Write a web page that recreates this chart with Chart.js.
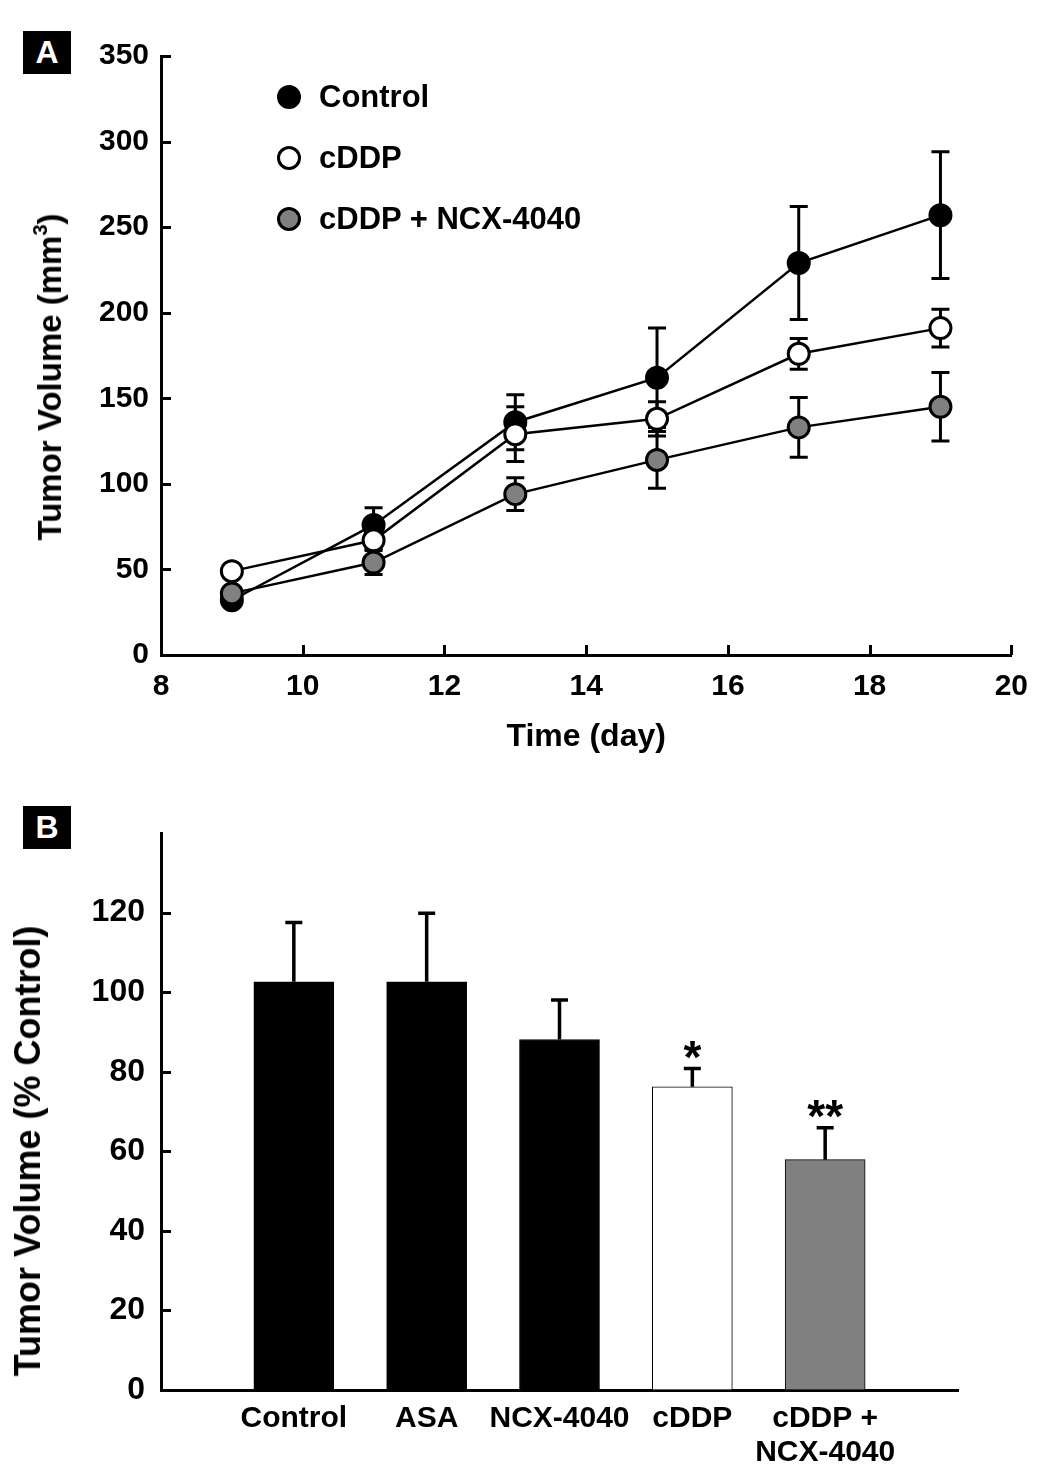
<!DOCTYPE html>
<html><head><meta charset="utf-8">
<script src="https://cdn.jsdelivr.net/npm/chart.js@4/dist/chart.umd.min.js"></script>
<style>
html,body{margin:0;padding:0;background:#fff;}
body{width:1042px;height:1480px;position:relative;overflow:hidden;font-family:'Liberation Sans',Arial,sans-serif;font-weight:bold;color:#000;}
#wrapA{position:absolute;left:0;top:0;width:1042px;height:760px;}
#wrapB{position:absolute;left:0;top:760px;width:1042px;height:720px;}
.panel{position:absolute;left:23px;width:48px;height:43px;background:#000;color:#fff;font-size:32px;line-height:43px;text-align:center;}
.ytitle{position:absolute;white-space:nowrap;transform:translate(-50%,-50%) rotate(-90deg);}
.leg{position:absolute;left:277px;height:40px;display:flex;align-items:center;font-size:31px;white-space:nowrap;}
.dot{width:18px;height:18px;border:3px solid #000;border-radius:50%;margin-right:18px;}
</style></head>
<body>
<div id="wrapA"><canvas id="chartA" width="1042" height="760"></canvas></div>
<div id="wrapB"><canvas id="chartB" width="1042" height="720"></canvas></div>

<div class="panel" style="top:31px;">A</div>
<div class="panel" style="top:806px;">B</div>

<div class="ytitle" style="left:50px;top:377px;font-size:33px;">Tumor Volume (mm<sup style="font-size:20px;vertical-align:14px;line-height:0">3</sup>)</div>
<div class="ytitle" style="left:28px;top:1151px;font-size:36px;">Tumor Volume (% Control)</div>

<div id="legend"></div>

<script>
// ---------- Panel A data ----------
const days = [9, 11, 13, 15, 17, 19];
const controlMean = [32, 76, 136, 162, 229, 257];
const controlSem  = [3, 10, 16, 29, 33, 37];
const cddpMean    = [49, 67, 129, 138, 176, 191];
const cddpSem     = [3, 5, 16, 10, 9, 11];
const comboMean   = [36, 54, 94, 114, 133, 145];
const comboSem    = [3, 7, 9.5, 16.6, 17.5, 20];
const seriesNames = ['Control', 'cDDP', 'cDDP + NCX-4040'];

// ---------- Panel B data ----------
const groups   = ['Control', 'ASA', 'NCX-4040', 'cDDP', ['cDDP +', 'NCX-4040']];
const pctMean  = [102.6, 102.6, 88.1, 76.2, 57.9];
const pctSem   = [14.9, 17.2, 9.9, 4.6, 8.0];
const sigMarks = ['', '', '', '*', '**'];

const FONT = "'Liberation Sans', Arial, sans-serif";
const fillA = ['#000000', '#ffffff', '#808080'];
const barFill = ['#000000', '#000000', '#000000', '#ffffff', '#808080'];

// Legend (HTML)
const legTops = [77, 138, 199];
const legEl = document.getElementById('legend');
seriesNames.forEach((n, i) => {
  const d = document.createElement('div');
  d.className = 'leg';
  d.style.top = legTops[i] + 'px';
  d.innerHTML = '<span class="dot" style="background:' + fillA[i] + '"></span><span>' + n + '</span>';
  legEl.appendChild(d);
});

// Inward tick marks
const inTicks = {
  id: 'inTicks',
  afterDraw(chart, args, opts) {
    const ctx = chart.ctx, ca = chart.chartArea;
    ctx.save();
    ctx.strokeStyle = '#000';
    ctx.lineWidth = 3;
    const len = opts.length || 10;
    if (opts.y) {
      const s = chart.scales.y;
      s.ticks.forEach(t => {
        const py = Math.round(s.getPixelForValue(t.value)) + 0.5;
        ctx.beginPath(); ctx.moveTo(ca.left, py); ctx.lineTo(ca.left + len, py); ctx.stroke();
      });
    }
    if (opts.x) {
      const s = chart.scales.x;
      s.ticks.forEach(t => {
        const px = Math.round(s.getPixelForValue(t.value)) + 0.5;
        ctx.beginPath(); ctx.moveTo(px, ca.bottom); ctx.lineTo(px, ca.bottom - len); ctx.stroke();
      });
    }
    ctx.restore();
  }
};

// Error bars panel A (drawn under markers)
const errA = {
  id: 'errA',
  beforeDatasetsDraw(chart) {
    const ctx = chart.ctx, x = chart.scales.x, y = chart.scales.y;
    const sets = [[controlMean, controlSem], [cddpMean, cddpSem], [comboMean, comboSem]];
    ctx.save();
    ctx.strokeStyle = '#000';
    ctx.lineWidth = 3;
    sets.forEach(([m, e]) => {
      days.forEach((d, i) => {
        const px = x.getPixelForValue(d);
        const t = y.getPixelForValue(m[i] + e[i]);
        const b = y.getPixelForValue(m[i] - e[i]);
        ctx.beginPath();
        ctx.moveTo(px, t); ctx.lineTo(px, b);
        ctx.moveTo(px - 9, t); ctx.lineTo(px + 9, t);
        ctx.moveTo(px - 9, b); ctx.lineTo(px + 9, b);
        ctx.stroke();
      });
    });
    ctx.restore();
  }
};

function pts(m) { return days.map((d, i) => ({ x: d, y: m[i] })); }

new Chart(document.getElementById('chartA'), {
  type: 'line',
  data: {
    datasets: [
      { label: seriesNames[1], data: pts(cddpMean), order: 0, backgroundColor: fillA[1], pointBackgroundColor: fillA[1] },
      { label: seriesNames[2], data: pts(comboMean), order: 1, backgroundColor: fillA[2], pointBackgroundColor: fillA[2] },
      { label: seriesNames[0], data: pts(controlMean), order: 2, backgroundColor: fillA[0], pointBackgroundColor: fillA[0] }
    ].map(ds => Object.assign(ds, {
      borderColor: '#000', borderWidth: 2.5, pointBorderColor: '#000', pointBorderWidth: 3,
      pointRadius: 10.5, tension: 0, fill: false, clip: false
    }))
  },
  options: {
    responsive: false, animation: false, devicePixelRatio: 1,
    layout: { padding: { top: 56, right: 30, left: 0, bottom: 0 } },
    plugins: { legend: { display: false }, tooltip: { enabled: false }, inTicks: { x: true, y: true, length: 10 } },
    scales: {
      x: {
        type: 'linear', min: 8, max: 20,
        ticks: { stepSize: 2, color: '#000', font: { family: FONT, size: 30, weight: 'bold' }, padding: 14, maxRotation: 0 },
        grid: { display: true, drawOnChartArea: false, drawTicks: false },
        border: { display: true, color: '#000', width: 3 },
        title: { display: true, text: 'Time (day)', color: '#000', font: { family: FONT, size: 32, weight: 'bold' }, padding: { top: 0, bottom: 4 } },
        afterFit: s => { s.height = 105; }
      },
      y: {
        min: 0, max: 350,
        ticks: { stepSize: 50, color: '#000', font: { family: FONT, size: 30, weight: 'bold' }, padding: 12 },
        grid: { display: true, drawOnChartArea: false, drawTicks: false },
        border: { display: true, color: '#000', width: 3 },
        afterFit: s => { s.width = 161; }
      }
    }
  },
  plugins: [inTicks, errA]
});

// Error bars + significance marks panel B
const errB = {
  id: 'errB',
  afterDatasetsDraw(chart) {
    const ctx = chart.ctx, x = chart.scales.x, y = chart.scales.y;
    ctx.save();
    ctx.strokeStyle = '#000';
    ctx.fillStyle = '#000';
    ctx.lineWidth = 3.5;
    pctMean.forEach((m, i) => {
      const px = x.getPixelForValue(i + 1);
      const base = y.getPixelForValue(m);
      const t = y.getPixelForValue(m + pctSem[i]);
      ctx.beginPath();
      ctx.moveTo(px, base); ctx.lineTo(px, t);
      ctx.moveTo(px - 8.5, t); ctx.lineTo(px + 8.5, t);
      ctx.stroke();
      if (sigMarks[i]) {
        ctx.font = 'bold 46px ' + FONT;
        ctx.textAlign = 'center';
        ctx.textBaseline = 'alphabetic';
        ctx.fillText(sigMarks[i], px, t + 4);
      }
    });
    ctx.restore();
  }
};

new Chart(document.getElementById('chartB'), {
  type: 'bar',
  data: {
    labels: [''].concat(groups, ['']),
    datasets: [{
      data: [null].concat(pctMean, [null]),
      backgroundColor: [null].concat(barFill, [null]),
      borderColor: '#000', borderWidth: 1, barThickness: 80
    }]
  },
  options: {
    responsive: false, animation: false, devicePixelRatio: 1,
    layout: { padding: { top: 73, right: 84, left: 0, bottom: 0 } },
    plugins: { legend: { display: false }, tooltip: { enabled: false }, inTicks: { x: false, y: true, length: 10 } },
    scales: {
      x: {
        type: 'category', offset: false,
        ticks: { color: '#000', font: { family: FONT, size: 30, weight: 'bold', lineHeight: 1.15 }, padding: 11, maxRotation: 0, autoSkip: false },
        grid: { display: true, drawOnChartArea: false, drawTicks: false, offset: false },
        border: { display: true, color: '#000', width: 3 },
        afterFit: s => { s.height = 90; }
      },
      y: {
        min: 0, max: 140,
        ticks: { stepSize: 20, color: '#000', font: { family: FONT, size: 32, weight: 'bold' }, padding: 16 },
        afterBuildTicks: s => { s.ticks = s.ticks.filter(t => t.value <= 120); },
        grid: { display: true, drawOnChartArea: false, drawTicks: false },
        border: { display: true, color: '#000', width: 3 },
        afterFit: s => { s.width = 161; }
      }
    }
  },
  plugins: [inTicks, errB]
});
</script>
</body></html>
